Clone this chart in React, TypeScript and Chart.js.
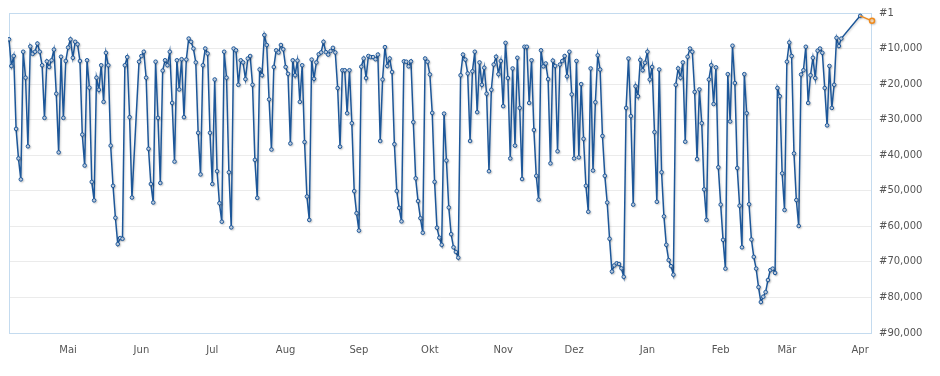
import React, { useEffect, useRef } from 'react';
import { Chart, registerables } from 'chart.js';

Chart.register(...registerables);

// Month tick labels and the day index (0 = first day shown) on which each month starts
const monthLabels = ['Mai', 'Jun', 'Jul', 'Aug', 'Sep', 'Okt', 'Nov', 'Dez', 'Jan', 'Feb', 'Mär', 'Apr'];
const monthStartDays = [25, 56, 86, 117, 148, 178, 209, 239, 270, 301, 329, 360];
const lastDay = 365;

// Rank ticks on the right axis
const rankTicks = [1, 10000, 20000, 30000, 40000, 50000, 60000, 70000, 80000, 90000];

// Daily sales rank, one entry per day (null = no reading that day)
const dailyRanks: (number | null)[] = [
  7400, 14900, 12100, 32600, 40900, 46800, 10900, 18200, 37500, 9400,
  11500, 10900, 8600, 10900, 14700, 29500, 13600, 15200, 13300, 10300,
  22700, 39200, 12300, 29500, 13500, 9700, 7400, 12600, 8100, 8800,
  13500, 34200, 42900, 13300, 21000, 47500, 52700, 18200, 21600, 14700,
  25000, 11200, 14700, 37300, 48600, 57600, 65000, 63300, 63500, 14700,
  12400, 29300, 51900, null, null, 13700, 12100, 10900, 18200, 38200,
  48100, 53300, 13700, 29500, 47800, 16200, 13300, 14700, 10900, 25300,
  41800, 13300, 21500, 13000, 29300, 13100, 7200, 8100, 10000, 13900,
  33700, 45400, 14700, 10000, 11400, 33700, 48100, 18700, 44500, 53500,
  58700, 10900, 18200, 44800, 60300, 10000, 10500, 20200, 13300, 13900,
  18600, 12800, 12100, 20200, 41300, 52000, 15900, 17500, 6200, 9000,
  24300, 38400, 15200, 10500, 11100, 9000, 10200, 15200, 17100, 36700,
  13300, 17500, 13400, 25000, 14700, 36300, 51600, 58200, 13100, 18500,
  13900, 11600, 11100, 8100, 11000, 11700, 10700, 9800, 11100, 21100,
  37600, 16100, 16100, 28200, 16100, 31000, 50100, 56300, 61200, 15100,
  12800, 18300, 12100, 12400, 12400, 13000, 11700, 36000, 18700, 9600,
  14900, 12800, 16600, 36900, 50100, 54800, 58600, 13600, 13700, 15000,
  13600, 30700, 46500, 52900, 57700, 61800, 12800, 13700, 17300, 28100,
  47500, 60400, 63200, 65200, 28300, 41500, 54700, 62200, 65900, 67200,
  68800, 17500, 11700, 13100, 17000, 36000, 16400, 10900, 27900, 13900,
  20200, 15400, 22700, 44500, 21600, 14500, 12300, 17200, 13500, 26200,
  8400, 18300, 40900, 15600, 37300, 12600, 26700, 46700, 9500, 9500,
  25300, 13300, 32900, 45800, 52500, 10500, 15000, 14200, 18600, 42300,
  13400, 14900, 38900, 14500, 13500, 12100, 17800, 10900, 22900, 40900,
  13500, 40600, 20000, 35400, 48600, 55900, 15600, 44300, 25100, 11900,
  15900, 34600, 45800, 53300, 63500, 72700, 71000, 70400, 70600, 71800,
  74200, 26700, 12800, 29000, 53900, 20600, 23400, 13200, 16100, 14000,
  10900, 18700, 15200, 33500, 53100, 15900, 44800, 57200, 65200, 69500,
  71200, 73600, 20200, 15600, 18200, 13900, 36200, 12300, 10000, 10900,
  22200, 41100, 21500, 31000, 49600, 58200, 18700, 14700, 25600, 15300,
  43400, 53900, 63800, 71900, 17200, 30500, 9200, 19700, 43600, 54200,
  65900, 17200, 28200, 53800, 63700, 68600, 71900, 77100, 81300, 79800,
  78500, 75100, 72300, 71900, 73100, 21100, 23400, 45100, 55400, 13700,
  8300, 12100, 39500, 52600, 59900, 17300, 16100, 9500, 25300, 17500,
  12600, 18300, 10600, 10000, 11200, 21100, 31600, 14900, 26700, 20200,
  7000, 9300, 7200, null, null, null, null, null, null, null,
  800,
];

// Latest (highlighted) segment
const latestDays = [360, 365];
const latestRanks = [800, 2200];

const BLUE = '#1d5799';
const ORANGE = '#ef8a1c';
const TEXT = '#555555';
const FONT = { family: 'DejaVu Sans', size: 10 };

const frameAndShadow = {
  id: 'frameAndShadow',
  beforeDatasetsDraw(chart: any) {
    const { ctx, chartArea } = chart;
    ctx.save();
    ctx.strokeStyle = '#c4dbef';
    ctx.lineWidth = 1;
    ctx.strokeRect(
      Math.round(chartArea.left) + 0.5,
      Math.round(chartArea.top) + 0.5,
      Math.round(chartArea.right - chartArea.left) - 1,
      Math.round(chartArea.bottom - chartArea.top)
    );
    ctx.restore();
  },
  beforeDatasetDraw(chart: any) {
    const ctx = chart.ctx;
    ctx.save();
    ctx.shadowColor = 'rgba(0,0,0,0.18)';
    ctx.shadowOffsetX = 1;
    ctx.shadowOffsetY = 1;
    ctx.shadowBlur = 2;
  },
  afterDatasetDraw(chart: any) {
    chart.ctx.restore();
  },
};

export default function App() {
  const canvasRef = useRef<HTMLCanvasElement | null>(null);

  useEffect(() => {
    if (!canvasRef.current) return;
    const chart = new Chart(canvasRef.current, {
      type: 'line',
      data: {
        datasets: [
          {
            data: dailyRanks.map((r, i) => ({ x: i, y: r })) as any,
            borderColor: BLUE,
            borderWidth: 1.5,
            pointRadius: 1.8,
            pointBorderWidth: 1,
            pointBackgroundColor: '#c9d8ea',
            pointBorderColor: BLUE,
            spanGaps: true,
            tension: 0,
            clip: false,
            order: 2,
          },
          {
            data: latestDays.map((d, i) => ({ x: d, y: latestRanks[i] })) as any,
            borderColor: ORANGE,
            borderWidth: 1.5,
            pointRadius: (ctx: any) => (ctx.dataIndex === 0 ? 0 : 2.5),
            pointBorderWidth: 1.5,
            pointBackgroundColor: '#fde3c4',
            pointBorderColor: ORANGE,
            tension: 0,
            clip: false,
            order: 1,
          },
        ],
      },
      options: {
        animation: false,
        responsive: true,
        maintainAspectRatio: false,
        layout: { autoPadding: false, padding: { left: 1, top: 5, right: 0, bottom: 12 } },
        plugins: { legend: { display: false }, tooltip: { enabled: false } },
        scales: {
          x: {
            type: 'linear',
            min: 0,
            max: lastDay,
            grid: { display: false, drawTicks: false },
            border: { display: false },
            afterBuildTicks: (scale: any) => {
              scale.ticks = monthStartDays.map((v) => ({ value: v }));
            },
            afterFit: (scale: any) => {
              scale.height = 23;
              scale.paddingLeft = 0;
              scale.paddingRight = 0;
            },
            ticks: {
              autoSkip: false,
              maxRotation: 0,
              padding: 11,
              color: TEXT,
              font: FONT,
              callback: (v: any) => {
                const idx = monthStartDays.indexOf(Number(v));
                return idx >= 0 ? monthLabels[idx] : '';
              },
            },
          },
          y: {
            position: 'right',
            reverse: true,
            min: 1,
            max: 90000,
            afterBuildTicks: (scale: any) => {
              scale.ticks = rankTicks.map((v) => ({ value: v }));
            },
            afterFit: (scale: any) => {
              scale.width = 60;
              scale.paddingTop = 0;
              scale.paddingBottom = 0;
            },
            grid: { color: '#ebebeb', lineWidth: 1, drawTicks: false },
            border: { display: false },
            ticks: {
              padding: 7,
              color: TEXT,
              font: FONT,
              callback: (v: any) => '#' + Number(v).toLocaleString('en-US'),
            },
          },
        },
      },
      plugins: [frameAndShadow],
    });
    return () => chart.destroy();
  }, []);

  return (
    <div style={{ position: 'relative', width: 924, height: 360 }}>
      <canvas ref={canvasRef} />
    </div>
  );
}
